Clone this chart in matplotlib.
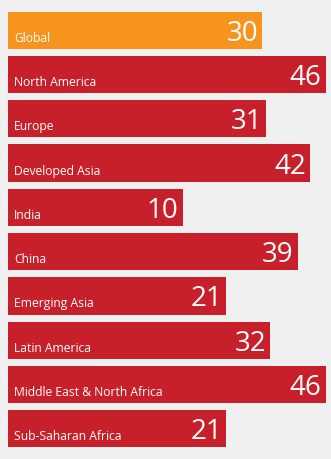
import numpy as np
import matplotlib.pyplot as plt

# data
regions = ["Global", "North America", "Europe", "Developed Asia", "India", "China",
           "Emerging Asia", "Latin America", "Middle East & North Africa", "Sub-Saharan Africa"]
values = [30, 46, 31, 42, 10, 39, 21, 32, 46, 21]
colors = ["#f7941e"] + ["#c8202a"] * 9

base = -34  # bars start left of zero in the original
bg = "#f0f0f0"

fig = plt.figure(figsize=(3.31, 4.59), dpi=100, facecolor=bg)
ax = fig.add_axes([0, 0, 1, 1], facecolor=bg)

y = np.arange(len(regions))
vals = np.array(values)
ax.barh(y, vals - base, left=base, height=0.835, color=colors)

px = 72 / 100  # points per pixel
for yi, name, v in zip(y, regions, vals):
    ax.annotate(name, (base, yi), xytext=(6 * px, -11.5 * px), textcoords="offset points",
                ha="left", va="baseline", color="white", fontsize=8.7, family="Open Sans")
    ax.annotate(str(v), (v, yi), xytext=(-4 * px, -10.5 * px), textcoords="offset points",
                ha="right", va="baseline", color="white", fontsize=20, family="Open Sans")

ax.set_xlim(base - 8 / 3.97, base + 331 / 3.97 - 8 / 3.97)
ax.set_ylim(9.677, -0.677)
ax.axis("off")

plt.savefig("out.png", dpi=100, facecolor=bg)
